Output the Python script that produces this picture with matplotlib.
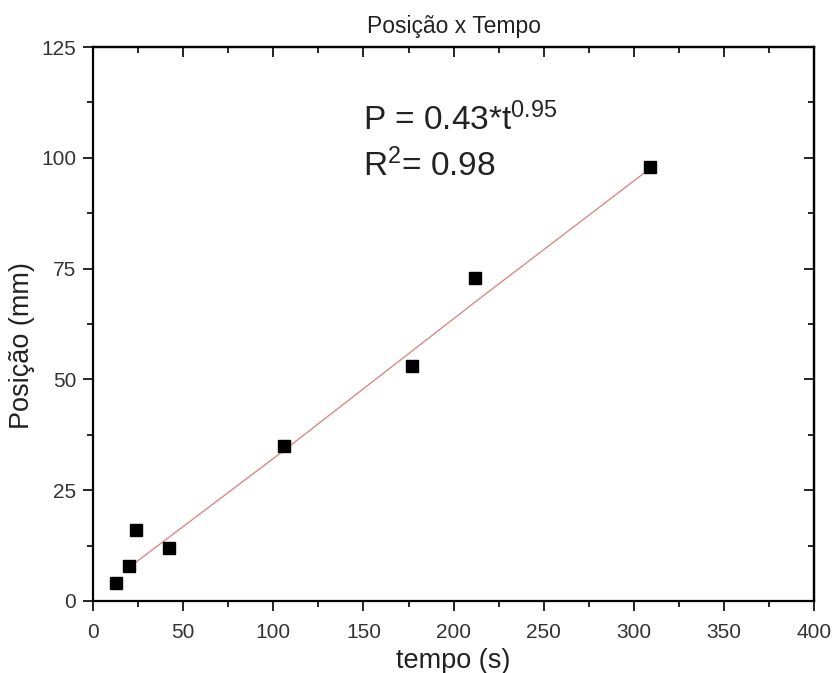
import matplotlib.pyplot as plt
from matplotlib.ticker import MultipleLocator

# Measured points
tempo = [13, 20, 24, 42, 106, 177, 212, 309]
posicao = [4, 8, 16, 12, 35, 53, 73, 98]

# Fit curve
fit_t = [22, 106, 213, 309]
fit_p = [8.2, 34.0, 67.8, 97.6]

plt.rcParams['font.family'] = ['Liberation Sans', 'DejaVu Sans']
plt.rcParams['mathtext.fontset'] = 'custom'
plt.rcParams['mathtext.rm'] = 'Liberation Sans'
plt.rcParams['mathtext.it'] = 'Liberation Sans'

fig = plt.figure(figsize=(8.35, 6.73), dpi=100)
ax = fig.add_axes([0.1114, 0.107, 0.8636, 0.823])

ax.plot(fit_t, fit_p, color='#d98a8a', linewidth=1.0, zorder=2)
ax.plot(tempo, posicao, linestyle='none', marker='s', markersize=9,
        color='black', zorder=3)

ax.set_xlim(0, 400)
ax.set_ylim(0, 125)
ax.xaxis.set_major_locator(MultipleLocator(50))
ax.xaxis.set_minor_locator(MultipleLocator(25))
ax.yaxis.set_major_locator(MultipleLocator(25))
ax.yaxis.set_minor_locator(MultipleLocator(12.5))

# Origin style: outward ticks on bottom/left, inward mirrored on top/right
ax.tick_params(which='both', direction='out', labelsize=15, colors='black',
               labelcolor='#333333', width=1.2)
ax.tick_params(which='major', length=7)
ax.tick_params(which='minor', length=4)
ax.tick_params(axis='x', which='major', pad=9)
ax.tick_params(axis='y', which='major', pad=5)
for sp in ax.spines.values():
    sp.set_linewidth(1.6)

sec_x = ax.secondary_xaxis('top')
sec_x.xaxis.set_major_locator(MultipleLocator(50))
sec_x.xaxis.set_minor_locator(MultipleLocator(25))
sec_x.tick_params(which='both', direction='in', labeltop=False, width=1.2)
sec_x.tick_params(which='major', length=7)
sec_x.tick_params(which='minor', length=4)
sec_y = ax.secondary_yaxis('right')
sec_y.yaxis.set_major_locator(MultipleLocator(25))
sec_y.yaxis.set_minor_locator(MultipleLocator(12.5))
sec_y.tick_params(which='both', direction='in', labelright=False, width=1.2)
sec_y.tick_params(which='major', length=7)
sec_y.tick_params(which='minor', length=4)
sec_x.spines['top'].set_linewidth(1.6)
sec_y.spines['right'].set_linewidth(1.6)

ax.set_xlabel('tempo (s)', fontsize=19.5, color='#222222', labelpad=4)
ax.set_ylabel('Posição (mm)', fontsize=19.5, color='#222222')
ax.yaxis.set_label_coords(-0.080, 0.462)
ax.set_title('Posição x Tempo', fontsize=16.5, color='#222222', pad=10)

tx = (363 - 93) / 721
ax.text(tx, 0.850, r'P = 0.43*t$^{0.95}$', transform=ax.transAxes,
        fontsize=24, color='#222222', ha='left', va='baseline')
ax.text(tx, 0.768, r'R$^{2}$= 0.98', transform=ax.transAxes,
        fontsize=24, color='#222222', ha='left', va='baseline')

plt.savefig('out.png', dpi=100)
